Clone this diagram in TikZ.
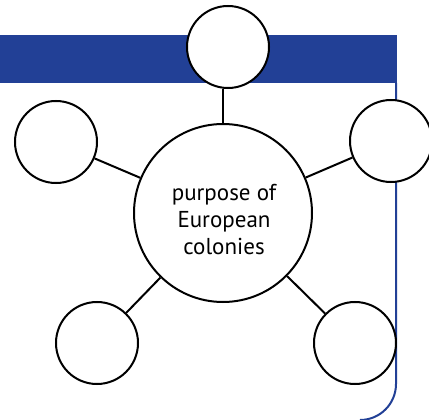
\documentclass[tikz,border=0pt]{standalone}
\usepackage{fontspec}
\setmainfont{PT Sans}
\definecolor{barblue}{RGB}{34,64,150}
\tikzset{
	spoke/.style={circle,draw=black,line width=2pt,fill=white,inner sep=0pt,minimum size=82pt},
	hubcircle/.style={circle,draw=black,line width=2pt,fill=white,inner sep=0pt,minimum size=178pt},
	hubtext/.style={align=center,font=\fontsize{23}{27}\selectfont},
}
\begin{document}
\begin{tikzpicture}[x=1pt,y=-1pt]
	\useasboundingbox (0,0) rectangle (429,420);

	% banner
	\fill[barblue] (0,35) rectangle (397,83);
	\draw[barblue,line width=2pt] (396,83) -- (396,384) arc[start angle=0,end angle=90,radius=36];

	% circles
	\node[hubcircle] (hub) at (223,213) {};
	\node[hubtext] (label) at (224,220) {purpose of\\European\\colonies};
	\node[spoke] (top) at (228,47) {};
	\node[spoke] (left) at (56,142) {};
	\node[spoke] (right) at (391,141) {};
	\node[spoke] (botleft) at (97,343) {};
	\node[spoke] (botright) at (355,343) {};

	% spokes
	\draw[line width=2pt] (hub) -- (hub |- top.south);
	\foreach \n in {left,right,botleft,botright}
		\draw[line width=2pt] (hub) -- (\n);
\end{tikzpicture}
\end{document}
